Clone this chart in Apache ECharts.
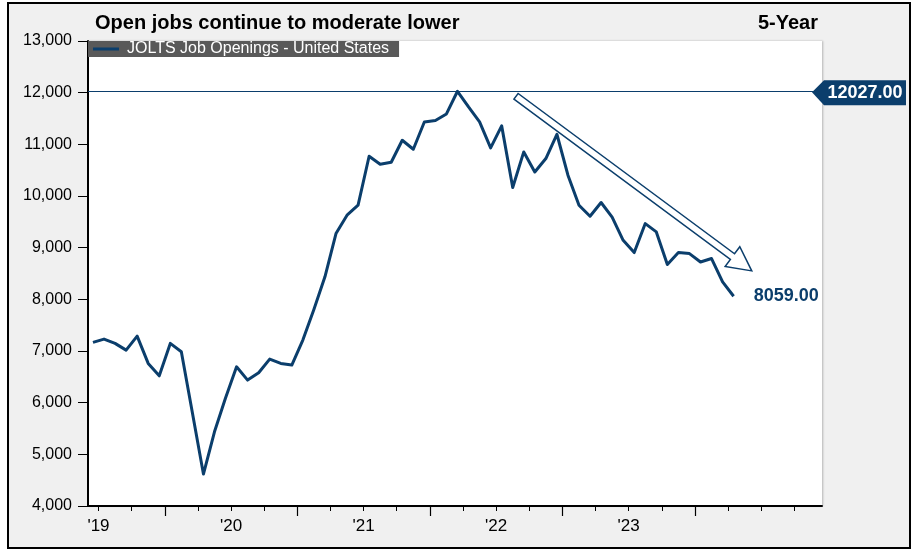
<!DOCTYPE html>
<html>
<head>
<meta charset="utf-8">
<script src="https://cdn.jsdelivr.net/npm/echarts@6/dist/echarts.min.js"></script>
<style>
  html, body { margin: 0; padding: 0; background: #ffffff; }
  #chart { width: 912px; height: 550px; }
</style>
</head>
<body>
<div id="chart"></div>
<script>
// Monthly JOLTS job openings, thousands (Jun 2019 - Apr 2024)
const months = [
  '2019-06','2019-07','2019-08','2019-09','2019-10','2019-11','2019-12',
  '2020-01','2020-02','2020-03','2020-04','2020-05','2020-06','2020-07','2020-08','2020-09','2020-10','2020-11','2020-12',
  '2021-01','2021-02','2021-03','2021-04','2021-05','2021-06','2021-07','2021-08','2021-09','2021-10','2021-11','2021-12',
  '2022-01','2022-02','2022-03','2022-04','2022-05','2022-06','2022-07','2022-08','2022-09','2022-10','2022-11','2022-12',
  '2023-01','2023-02','2023-03','2023-04','2023-05','2023-06','2023-07','2023-08','2023-09','2023-10','2023-11','2023-12',
  '2024-01','2024-02','2024-03','2024-04'
];
const openings = [
  7166, 7230, 7147, 7017, 7288, 6760, 6520,
  7147, 6985, 5805, 4619, 5437, 6089, 6694, 6437, 6578, 6843, 6760, 6728,
  7211, 7805, 8437, 9274, 9628, 9822, 10770, 10615, 10654, 11079, 10905, 11433,
  11460, 11588, 12027, 11723, 11433, 10930, 11357, 10164, 10853, 10466, 10725, 11195,
  10402, 9822, 9609, 9874, 9590, 9143, 8905, 9466, 9305, 8675, 8905, 8885,
  8723, 8790, 8338, 8059
];
const seriesName = 'JOLTS Job Openings - United States';
const peakValue = 12027;
const yearLabels = ["'19", "'20", "'21", "'22", "'23"];
const firstYear = 2019;

const NAVY = '#0b3e6c';
const FONT = '"Liberation Sans", Arial, Helvetica, sans-serif';

// x position in months since Jan 2019, centred on the month
function monthPos(s) {
  const [y, m] = s.split('-').map(Number);
  return (y - firstYear) * 12 + (m - 1) + 0.5;
}

const X_MIN = 5.05, X_MAX = 71.5;
const quarterTicks = [];
for (let q = 6; q <= 69; q += 3) quarterTicks.push(q);
const yearTicks = [12, 24, 36, 48, 60];
const labelPos = yearLabels.map((_, i) => i * 12 + 6);

const chart = echarts.init(document.getElementById('chart'), null, { renderer: 'canvas' });

const option = {
  animation: false,
  textStyle: { fontFamily: FONT },
  title: [
    { text: 'Open jobs continue to moderate lower', left: 95, top: 13, padding: 0,
      textStyle: { fontSize: 20, fontWeight: 'bold', color: '#000', fontFamily: FONT } },
    { text: '5-Year', right: 94, top: 13, padding: 0,
      textStyle: { fontSize: 20, fontWeight: 'bold', color: '#000', fontFamily: FONT } }
  ],
  legend: {
    left: 88, top: 41,
    icon: 'rect', itemWidth: 26, itemHeight: 3,
    backgroundColor: '#595959', borderRadius: 0,
    padding: [0, 10, 0, 5],
    textStyle: { color: '#ffffff', fontSize: 16, fontFamily: FONT, padding: [0, 0, 0, 3] },
    data: [seriesName]
  },
  grid: {
    left: 88, right: 90, top: 41, bottom: 44,
    show: true, backgroundColor: '#ffffff', borderWidth: 0,
    shadowColor: 'rgba(0,0,0,0.25)', shadowBlur: 2, shadowOffsetX: 1, shadowOffsetY: 0
  },
  xAxis: [
    {
      type: 'value', min: X_MIN, max: X_MAX, position: 'bottom',
      axisLine: { show: true, onZero: false, lineStyle: { color: '#000', width: 2 } },
      axisTick: { show: true, length: 5, customValues: quarterTicks, lineStyle: { color: '#000', width: 1 } },
      axisLabel: {
        show: true, customValues: labelPos, margin: 12,
        fontSize: 17, color: '#000', fontFamily: FONT,
        formatter: v => yearLabels[Math.round((v - 6) / 12)]
      },
      splitLine: { show: false }
    },
    {
      type: 'value', min: X_MIN, max: X_MAX, position: 'bottom', offset: 0,
      axisLine: { show: false },
      axisTick: { show: true, length: 10, customValues: yearTicks, lineStyle: { color: '#000', width: 1.2 } },
      axisLabel: { show: false },
      splitLine: { show: false }
    }
  ],
  yAxis: {
    type: 'value', min: 4000, max: 13000, interval: 1000,
    axisLine: { show: true, lineStyle: { color: '#000', width: 2 } },
    axisTick: { show: true, length: 10, lineStyle: { color: '#000', width: 1 } },
    axisLabel: {
      margin: 16, fontSize: 16, color: '#000', fontFamily: FONT,
      formatter: v => v.toLocaleString('en-US')
    },
    splitLine: { show: false }
  },
  series: [
    {
      name: seriesName,
      type: 'line',
      xAxisIndex: 0,
      data: months.map((m, i) => [monthPos(m), openings[i]]),
      symbol: 'none',
      showSymbol: false,
      lineStyle: { color: NAVY, width: 3, join: 'round' },
      itemStyle: { color: NAVY },
      endLabel: {
        show: true, distance: 20,
        formatter: p => p.value[1].toFixed(2),
        color: NAVY, fontWeight: 'bold', fontSize: 18, fontFamily: FONT
      },
      markLine: {
        silent: true, symbol: 'none',
        lineStyle: { color: NAVY, width: 1.2, type: 'solid' },
        label: { show: false },
        emphasis: { disabled: true },
        data: [{ yAxis: peakValue }]
      },
      markPoint: {
        silent: true,
        symbol: 'path://M0,12L12,0L94,0L94,25L12,25Z',
        symbolSize: [94, 25],
        symbolOffset: [37, 1.5],
        itemStyle: { color: NAVY },
        label: {
          show: true, position: 'inside', offset: [6, 0],
          formatter: () => peakValue.toFixed(2),
          color: '#ffffff', fontWeight: 'bold', fontSize: 18, fontFamily: FONT
        },
        data: [{ coord: [X_MAX, peakValue] }]
      }
    }
  ]
};

chart.setOption(option);

// Hollow trend arrow drawn over the decline after the peak
function trendArrow(from, to) {
  const a = chart.convertToPixel({ gridIndex: 0 }, from);
  const b = chart.convertToPixel({ gridIndex: 0 }, to);
  const dx = b[0] - a[0], dy = b[1] - a[1];
  const len = Math.hypot(dx, dy);
  const ux = dx / len, uy = dy / len;
  const nx = -uy, ny = ux;
  const shaft = 3.5, head = 12.3, headLen = 24;
  const bx = b[0] - ux * headLen, by = b[1] - uy * headLen;
  return [
    [a[0] + nx * shaft, a[1] + ny * shaft],
    [bx + nx * shaft, by + ny * shaft],
    [bx + nx * head, by + ny * head],
    [b[0], b[1]],
    [bx - nx * head, by - ny * head],
    [bx - nx * shaft, by - ny * shaft],
    [a[0] - nx * shaft, a[1] - ny * shaft]
  ];
}

chart.setOption({
  graphic: [
    {
      type: 'rect', z: -10, silent: true,
      shape: { x: 8, y: 3, width: 902, height: 545 },
      style: { fill: '#f0f0f0', stroke: '#000', lineWidth: 2 }
    },
    {
      type: 'polygon', z: 10, silent: true,
      shape: { points: trendArrow([43.8, 11930], [65.14, 8551]) },
      style: { fill: '#ffffff', stroke: NAVY, lineWidth: 1.5 }
    }
  ]
});
</script>
</body>
</html>
